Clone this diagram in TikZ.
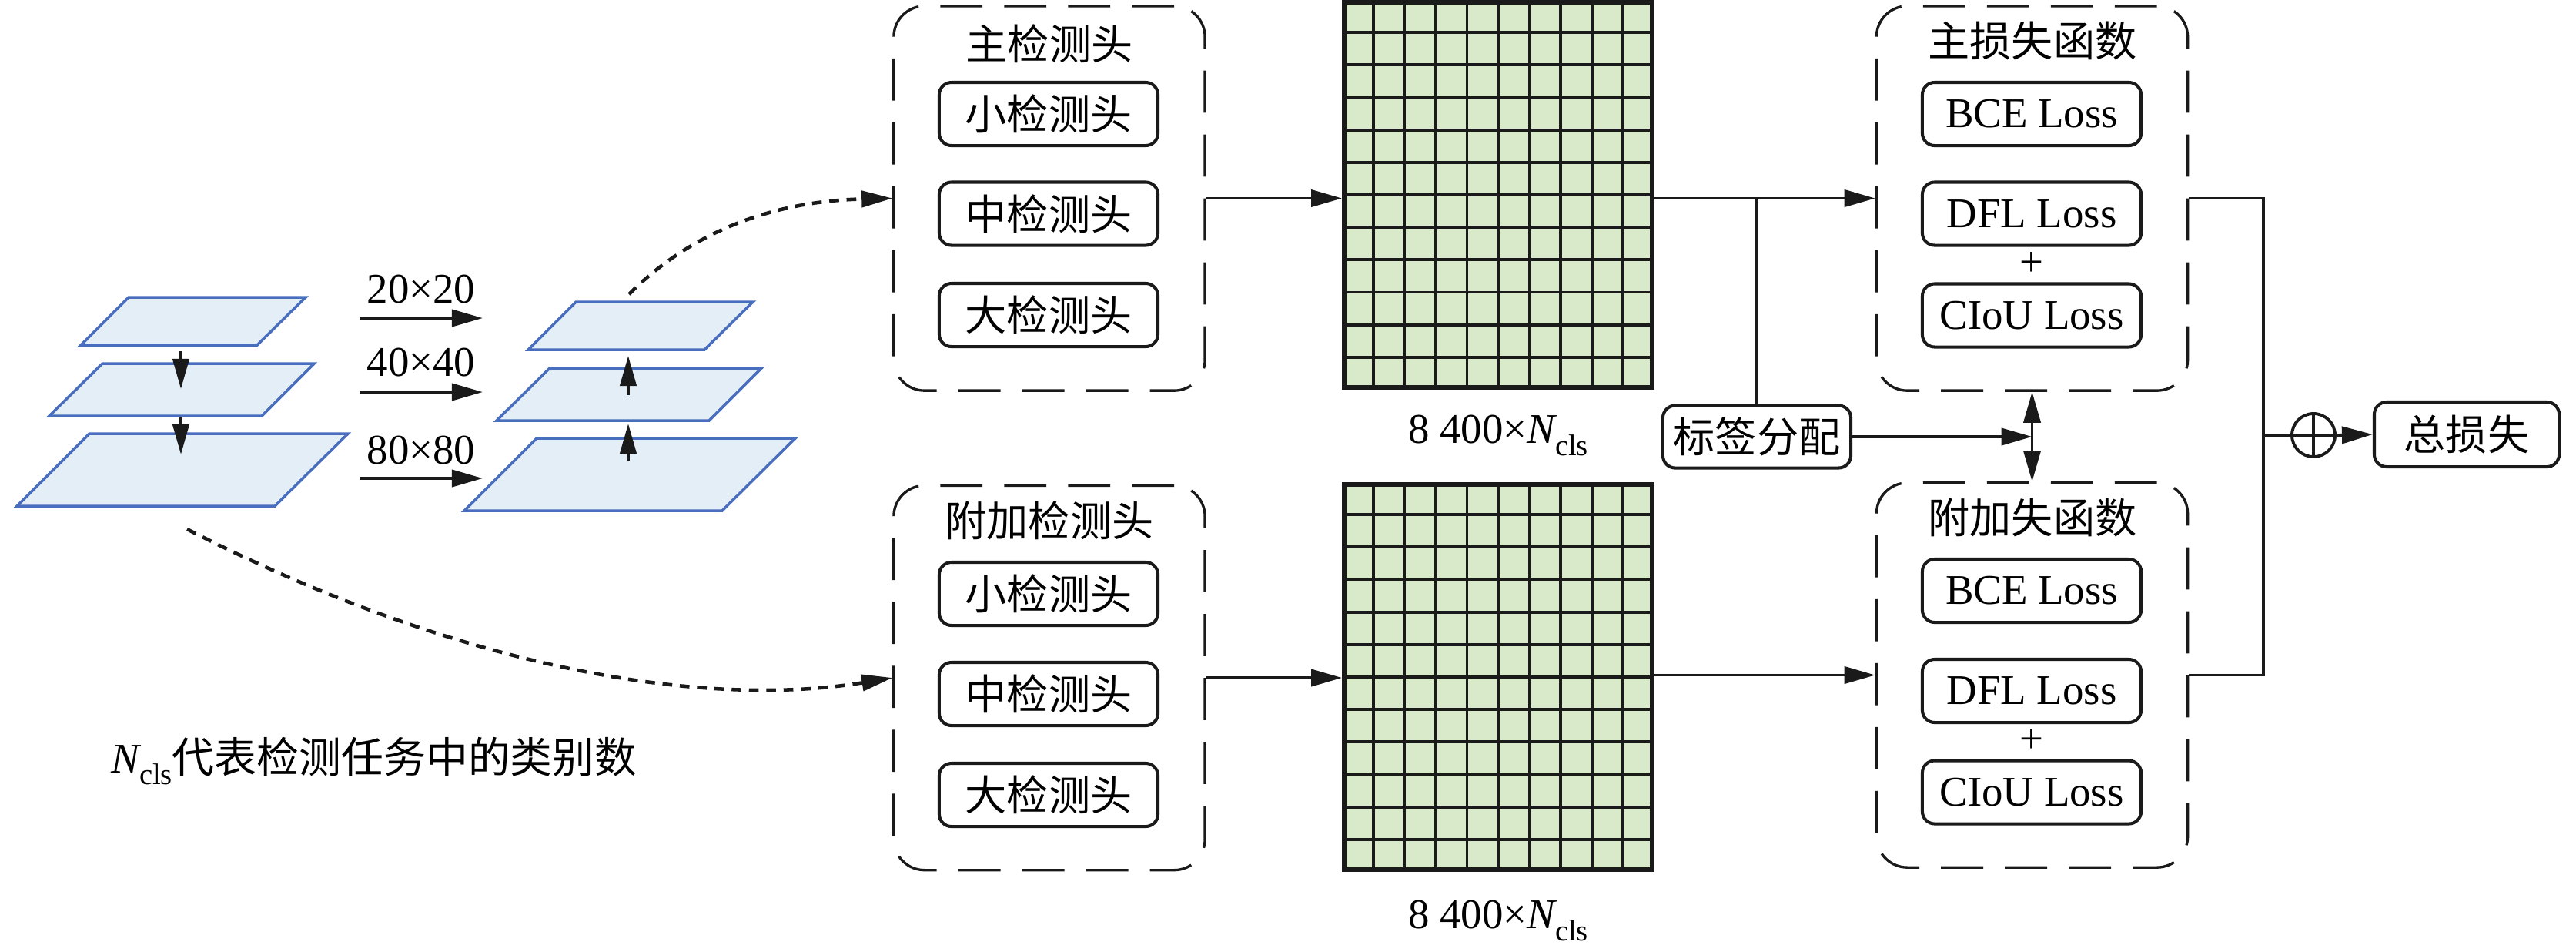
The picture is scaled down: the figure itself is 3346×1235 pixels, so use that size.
\documentclass[tikz,border=0pt]{standalone}
\usepackage{fontspec}
\setmainfont{Liberation Serif}
\newfontfamily\cjk{Noto Sans CJK SC}
\usetikzlibrary{arrows.meta,calc}
\definecolor{layerblue}{HTML}{4A6EBE}
\definecolor{layerfill}{HTML}{E4EEF7}
\definecolor{gridfill}{HTML}{D9EACB}
\definecolor{ink}{HTML}{1A1A1A}
\newcommand{\ncls}{{\itshape N}\raisebox{-0.28em}{\fontsize{11}{11}\selectfont cls}}
\tikzset{
  conn/.style={draw=ink, line width=1.1pt, -{Triangle[length=0.4cm,width=0.22cm]}},
  dconn/.style={draw=ink, line width=1.1pt, {Triangle[length=0.4cm,width=0.22cm]}-{Triangle[length=0.4cm,width=0.22cm]}},
  plainline/.style={draw=ink, line width=1.1pt},
  sarrow/.style={draw=ink, line width=1.2pt, -{Triangle[length=0.39cm,width=0.21cm]}},
  dcurve/.style={draw=ink, line width=1.3pt, dash pattern=on 3.6pt off 2.8pt, -{Triangle[length=0.4cm,width=0.21cm]}},
  dbox/.style={draw=ink, line width=0.95pt, dash pattern=on 15.6pt off 8pt, rounded corners=0.4cm, minimum width=4.04cm, minimum height=4.99cm, inner sep=0pt},
  ibox/.style={draw=ink, line width=1.15pt, rounded corners=0.16cm, minimum width=2.84cm, minimum height=0.82cm, inner sep=0pt},
  cjkt/.style={font=\fontsize{15.4}{18}\selectfont\cjk},
  latt/.style={font=\fontsize{15.6}{18}\selectfont},
  layer/.style={draw=layerblue, fill=layerfill, line width=1pt, line join=miter},
  gridbox/.style={draw=ink, fill=gridfill, line width=1.6pt, minimum width=4cm, minimum height=5cm, inner sep=0pt},
  gridline/.style={draw=ink, line width=1.1pt},
}
\begin{document}
\begin{tikzpicture}[x=0.01cm, y=-0.01cm]
\path[use as bounding box] (0,0) rectangle (3346,1235);

% ---------- left feature stack ----------
\draw[layer] (167,386) -- (397,386) -- (334,448) -- (105,448) -- cycle;
\draw[layer] (133,472) -- (408,472) -- (340,540) -- (64,540) -- cycle;
\draw[layer] (116,563) -- (452,563) -- (357,657) -- (22,657) -- cycle;
\coordinate (la1s) at (235,456); \coordinate (la1e) at (235,505);
\coordinate (la2s) at (235,541); \coordinate (la2e) at (235,590);
\draw[sarrow] (la1s) -- (la1e);
\draw[sarrow] (la2s) -- (la2e);

% ---------- right feature stack ----------
\draw[layer] (748,392) -- (978,392) -- (915,454) -- (686,454) -- cycle;
\draw[layer] (714,478) -- (989,478) -- (921,546) -- (645,546) -- cycle;
\draw[layer] (697,569) -- (1033,569) -- (938,663) -- (603,663) -- cycle;
\coordinate (ra1s) at (816,513); \coordinate (ra1e) at (816,462);
\coordinate (ra2s) at (816,598); \coordinate (ra2e) at (816,550);
\draw[sarrow] (ra1s) -- (ra1e);
\draw[sarrow] (ra2s) -- (ra2e);

% ---------- scale arrows ----------
\coordinate (h1s) at (468,413); \coordinate (h1e) at (627,413);
\coordinate (h2s) at (468,509); \coordinate (h2e) at (627,509);
\coordinate (h3s) at (468,621); \coordinate (h3e) at (627,621);
\draw[conn] (h1s) -- (h1e);
\draw[conn] (h2s) -- (h2e);
\draw[conn] (h3s) -- (h3e);
\node[latt, anchor=base] (t20) at (547,393) {20×20};
\node[latt, anchor=base] (t40) at (547,488) {40×40};
\node[latt, anchor=base] (t80) at (547,602) {80×80};

% ---------- detection heads ----------
\node[dbox] (dh1) at (1363,257.5) {};
\node[cjkt] (dh1t) at (1363,57) {主检测头};
\node[ibox, cjkt] (s1) at (1362,148) {小检测头};
\node[ibox, cjkt] (m1) at (1362,277.5) {中检测头};
\node[ibox, cjkt] (l1) at (1362,409) {大检测头};

\node[dbox] (dh2) at (1363,880) {};
\node[cjkt] (dh2t) at (1363,676) {附加检测头};
\node[ibox, cjkt] (s2) at (1362,771) {小检测头};
\node[ibox, cjkt] (m2) at (1362,901) {中检测头};
\node[ibox, cjkt] (l2) at (1362,1032) {大检测头};

% ---------- dashed curves ----------
\coordinate (c1) at (817,382);
\coordinate (c2) at (243,687);
\draw[dcurve] (c1) .. controls (902,297) and (1010,261) .. (dh1.west);
\draw[dcurve] (c2) .. controls (599,869) and (914,920) .. (dh2.west);

% ---------- output grids ----------
\node[gridbox] (g1) at (1946,253) {};
\foreach \i in {1,...,9}
  \draw[gridline] ($(g1.north west)!\i/10!(g1.north east)$) -- ($(g1.south west)!\i/10!(g1.south east)$);
\foreach \j in {1,...,11}
  \draw[gridline] ($(g1.north west)!\j/12!(g1.south west)$) -- ($(g1.north east)!\j/12!(g1.south east)$);
\node[gridbox, fill=none] (g1b) at (g1.center) {};

\node[gridbox] (g2) at (1946,879) {};
\foreach \i in {1,...,9}
  \draw[gridline] ($(g2.north west)!\i/10!(g2.north east)$) -- ($(g2.south west)!\i/10!(g2.south east)$);
\foreach \j in {1,...,11}
  \draw[gridline] ($(g2.north west)!\j/12!(g2.south west)$) -- ($(g2.north east)!\j/12!(g2.south east)$);
\node[gridbox, fill=none] (g2b) at (g2.center) {};

\node[latt, anchor=base] (gl1) at ($(g1.south)+(0,70)$) {8\hspace{0.25em}400×\ncls};
\node[latt, anchor=base] (gl2) at ($(g2.south)+(0,74)$) {8\hspace{0.25em}400×\ncls};

% ---------- loss functions ----------
\node[dbox] (lb1) at (2639.5,257.5) {};
\node[cjkt] (lb1t) at (2640,53) {主损失函数};
\node[ibox, latt] (bce1) at (2639,148) {BCE Loss};
\node[ibox, latt] (dfl1) at (2639,277.5) {DFL Loss};
\node[latt] (pl1) at (2639,343) {+};
\node[ibox, latt] (ciou1) at (2639,409.5) {CIoU Loss};

\node[dbox] (lb2) at (2639.5,876.5) {};
\node[cjkt] (lb2t) at (2640,672) {附加失函数};
\node[ibox, latt] (bce2) at (2639,767) {BCE Loss};
\node[ibox, latt] (dfl2) at (2639,897) {DFL Loss};
\node[latt] (pl2) at (2639,962) {+};
\node[ibox, latt] (ciou2) at (2639,1028.5) {CIoU Loss};

% ---------- label assignment, sum ----------
\node[ibox, cjkt, minimum width=2.44cm, minimum height=0.81cm] (lab) at (2282,567) {标签分配};
\node[ibox, cjkt, minimum width=2.40cm, minimum height=0.84cm] (tot) at (3204,564) {总损失};
\node[circle, draw=ink, line width=1.1pt, minimum size=0.56cm, inner sep=0pt] (sum) at (3005,565) {};
\coordinate (rj) at (2940,257.5);

% ---------- connectors ----------
\draw[conn] (dh1.east) -- (dh1.east -| g1.west);
\draw[conn] (dh2.east) -- (dh2.east -| g2.west);
\draw[conn] (g1.east |- lb1.west) -- (lb1.west);
\draw[conn] (g2.east |- lb2.west) -- (lb2.west);
\draw[plainline] (lab.north) -- (lab.north |- lb1.west);
\draw[conn] (lab.east) -- (lab.east -| lb1.south);
\draw[dconn] (lb1.south) -- (lb2.north);
\draw[plainline] (lb1.east) -- (rj |- lb1.east) -- (rj |- lb2.east) -- (lb2.east);
\draw[plainline] (rj |- sum.center) -- (sum.east);
\draw[plainline] (sum.north) -- (sum.south);
\draw[conn] (sum.east) -- (tot.west);

% ---------- note ----------
\node[anchor=base west, font=\fontsize{15.6}{20}\selectfont] (note) at (132,1003) {\ncls{\cjk 代表检测任务中的类别数}};
\end{tikzpicture}
\end{document}
